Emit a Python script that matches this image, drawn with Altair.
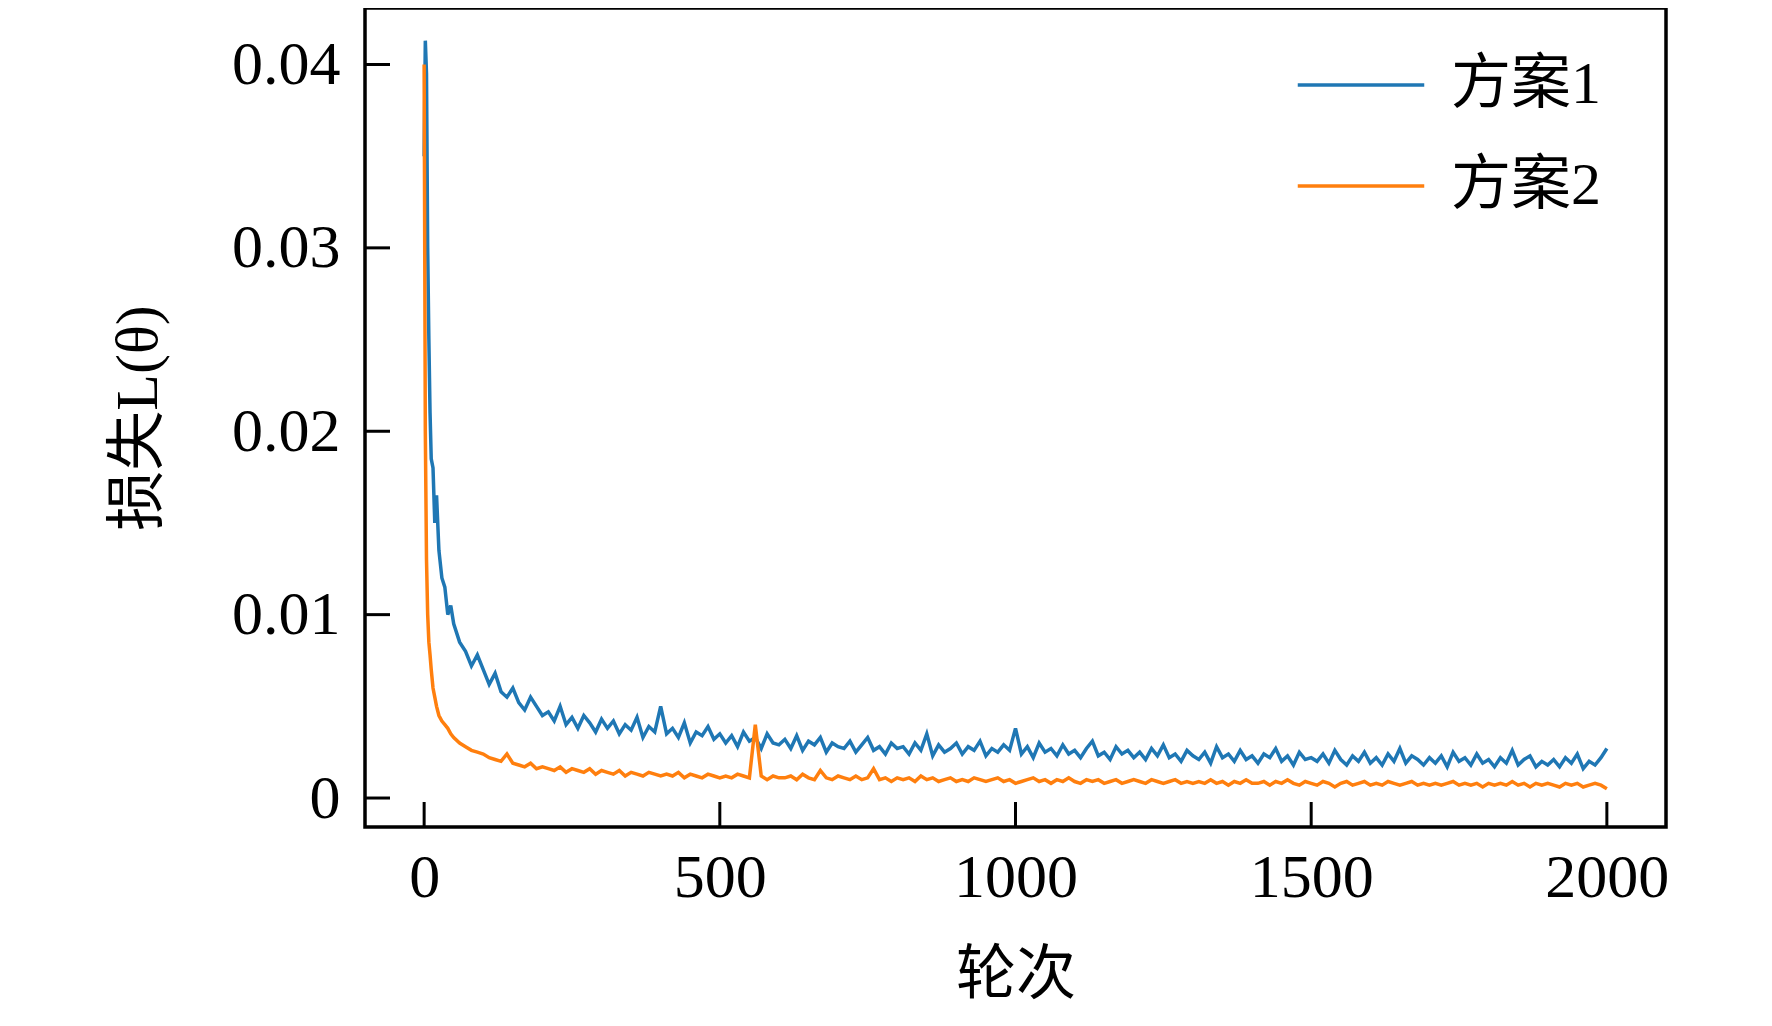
import altair as alt
import pandas as pd

# epochs
epochs = [0, 2, 4, 6, 8, 10, 12, 15, 18, 21, 25, 30, 35, 40, 45, 50, 60, 70, 80, 90, 100] + list(range(110, 2001, 10))

# loss values in units of 1e-4
scheme1 = [350, 413, 395, 300, 250, 210, 185, 180, 150, 165, 135, 120, 115, 100, 105, 95, 85, 80, 72, 78, 70,
           62, 68, 58, 55, 60, 52, 48, 55, 50, 45,
           47, 42, 50, 40, 44, 38, 45, 41, 36, 43,
           38, 42, 35, 40, 37, 44, 33, 39, 36, 50,
           35, 38, 33, 41, 30, 36, 34, 39, 32, 35,
           30, 34, 28, 36, 31, 33, 27, 35, 30, 29,
           32, 27, 34, 26, 31, 29, 33, 25, 30, 28,
           27, 31, 25, 29, 33, 26, 28, 24, 30, 27,
           28, 24, 30, 26, 35, 23, 29, 25, 27, 30,
           24, 28, 26, 31, 23, 27, 25, 29, 26, 38,
           24, 28, 22, 30, 25, 27, 23, 29, 24, 26,
           22, 27, 31, 23, 25, 21, 28, 24, 26, 22,
           25, 21, 27, 23, 29, 22, 24, 20, 26, 23,
           21, 25, 19, 28, 22, 24, 20, 26, 21, 23,
           19, 24, 22, 27, 20, 23, 18, 25, 21, 22,
           20, 24, 19, 26, 21, 18, 23, 20, 25, 19,
           22, 18, 24, 20, 27, 19, 23, 21, 18, 22,
           19, 23, 17, 25, 20, 22, 18, 24, 19, 21,
           17, 22, 19, 26, 18, 21, 23, 17, 20, 18,
           21, 17, 22, 19, 24, 16, 20, 18, 22, 27]
scheme2 = [400, 200, 130, 100, 85, 78, 70, 60, 55, 50, 45, 42, 40, 38, 35, 33, 30, 28, 26, 25, 24,
           22, 21, 20, 24, 19, 18, 17, 19, 16, 17,
           16, 15, 17, 14, 16, 15, 14, 16, 13, 15,
           14, 13, 15, 12, 14, 13, 12, 14, 13, 12,
           13, 12, 14, 11, 13, 12, 11, 13, 12, 11,
           12, 11, 13, 12, 11, 40, 12, 10, 12, 11,
           11, 12, 10, 13, 11, 10, 15, 11, 10, 12,
           11, 10, 12, 10, 11, 16, 10, 11, 9, 11,
           10, 11, 9, 12, 10, 11, 9, 10, 11, 9,
           10, 9, 11, 10, 9, 10, 11, 9, 10, 8,
           9, 10, 11, 9, 10, 8, 10, 9, 11, 9,
           8, 10, 9, 10, 8, 9, 10, 8, 9, 10,
           9, 8, 10, 9, 8, 9, 10, 8, 9, 8,
           9, 8, 10, 8, 9, 7, 9, 8, 10, 8,
           8, 9, 7, 9, 8, 10, 8, 7, 9, 8,
           7, 9, 8, 6, 8, 9, 7, 8, 9, 7,
           8, 7, 9, 8, 7, 8, 9, 7, 8, 7,
           8, 7, 8, 9, 7, 8, 7, 8, 6, 8,
           7, 8, 7, 9, 7, 8, 6, 8, 7, 8,
           7, 6, 8, 7, 8, 6, 7, 8, 7, 5]

names = ["方案1", "方案2"]
x_ticks = [0, 500, 1000, 1500, 2000]
y_ticks = [0, 0.01, 0.02, 0.03, 0.04]

rows = []
for name, vals in zip(names, [scheme1, scheme2]):
    for e, v in zip(epochs, vals):
        rows.append({"轮次": e, "loss": v / 10000, "方案": name})
df = pd.DataFrame(rows)

W, H = 1301, 819
font = "Liberation Serif, Noto Sans CJK SC"
xs = alt.Scale(domain=[-100, 2100], nice=False, zero=False)
ys = alt.Scale(domain=[-0.00158, 0.04308], nice=False, zero=False)

lines = alt.Chart(df).mark_line(strokeWidth=3.5, clip=True).encode(
    x=alt.X("轮次:Q", scale=xs, axis=alt.Axis(values=x_ticks, ticks=False, domain=False, grid=False,
            labelFontSize=62, labelPadding=20, title="轮次", titleFontSize=60, titlePadding=38,
            titleFontWeight="normal", labelFlush=False, format="d")),
    y=alt.Y("loss:Q", scale=ys, axis=alt.Axis(values=y_ticks, ticks=False, domain=False, grid=False,
            labelFontSize=62, labelPadding=25, title="损失L(θ)", titleFontSize=60, titlePadding=62,
            titleFontWeight="normal", labelExpr="datum.value == 0 ? '0' : format(datum.value, '.2f')")),
    color=alt.Color("方案:N", scale=alt.Scale(domain=names, range=["#1f77b4", "#ff7f0e"]),
                    legend=alt.Legend(title=None, orient="none", legendX=W - 370, legendY=12,
                                      symbolType="stroke", symbolSize=16000, symbolStrokeWidth=3.5,
                                      labelFontSize=60, labelFont=font, rowPadding=6, labelOffset=25)),
)

xt = alt.Chart(pd.DataFrame({"t": x_ticks})).mark_rule(color="black", strokeWidth=3).encode(
    x=alt.X("t:Q", scale=xs), y=alt.value(H), y2=alt.value(H - 25))
yt = alt.Chart(pd.DataFrame({"t": y_ticks})).mark_rule(color="black", strokeWidth=3).encode(
    y=alt.Y("t:Q", scale=ys), x=alt.value(0), x2=alt.value(25))

chart = alt.layer(lines, xt, yt).properties(
    width=W, height=H, autosize=alt.AutoSizeParams(type="none"),
    padding={"left": 357, "top": 0, "right": 98, "bottom": 191},
).configure_view(stroke="black", strokeWidth=3.5).configure_axis(
    labelFont=font, titleFont=font, labelColor="black", titleColor="black")

chart.save("out.html", embed_options={"renderer": "svg", "actions": False})
